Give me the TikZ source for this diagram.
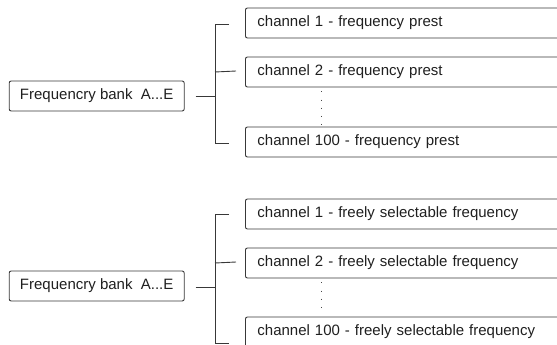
\documentclass[tikz,border=0pt]{standalone}
\usepackage{fontspec}
\setmainfont{Liberation Sans}
\usetikzlibrary{calc}
\begin{document}
\begin{tikzpicture}[x=1pt,y=-1pt,
  ln/.style={draw=black!78,line width=0.9pt},
  bankbox/.style={ln,rounded corners=2pt,minimum width=175pt,minimum height=30pt,inner sep=0pt,font=\fontsize{15}{17}\selectfont,text=black!88},
  chanbox/.style={ln,rounded corners=2pt,anchor=west,minimum width=330pt,minimum height=30pt,inner xsep=12pt,inner ysep=0pt,text width=306pt,align=left,font=\fontsize{15}{17}\selectfont,text=black!88},
  dotline/.style={draw=black!72,line width=1pt,dash pattern=on 0.9pt off 7.2pt}]
\useasboundingbox (0,0) rectangle (557,345);
\clip (0,0) rectangle (557,345);
% top group
\node[bankbox] (bankA) at (96.7,96) {Frequencry bank\ \ A...E};
\node[chanbox] (a1) at (245,23) {channel 1 - frequency prest};
\node[chanbox] (a2) at (245,72) {channel 2 - frequency prest};
\node[chanbox] (a3) at (245,142) {channel 100 - frequency prest};
\coordinate (ja) at (215,96);
\coordinate (ja1) at (215,24);
\coordinate (ja3) at (215,143);
\draw[ln] ($(bankA.east)+(11,0)$) -- (ja);
\draw[ln] ($(a1.west)+(-16,1)$) -- (ja1) -- (ja3) -- ($(a3.west)+(-16,1)$);
\draw[ln] ($(a2.west)+(-9,-1)$) -- (ja1 |- a2.west);
\draw[dotline] ($(a2.south west)+(76,4)$) -- ($(a3.north west)+(76,-2)$);
% bottom group
\node[bankbox] (bankB) at (96.7,286) {Frequencry bank\ \ A...E};
\node[chanbox] (b1) at (245,214) {channel 1 - freely selectable frequency};
\node[chanbox] (b2) at (245,263) {channel 2 - freely selectable frequency};
\node[chanbox] (b3) at (245,332) {channel 100 - freely selectable frequency};
\coordinate (jb) at (215,287);
\coordinate (jb1) at (215,214);
\coordinate (jb3) at (215,343);
\draw[ln] ($(bankB.east)+(11,1)$) -- (jb);
\draw[ln] ($(b1.west)+(-16,0)$) -- (jb1) -- (jb3) -- ($(b3.west)+(-16,11)$);
\draw[ln] ($(b2.west)+(-9,-1)$) -- (jb1 |- b2.west);
\draw[dotline] ($(b2.south west)+(76,4)$) -- ($(b3.north west)+(76,-2)$);
\end{tikzpicture}
\end{document}
